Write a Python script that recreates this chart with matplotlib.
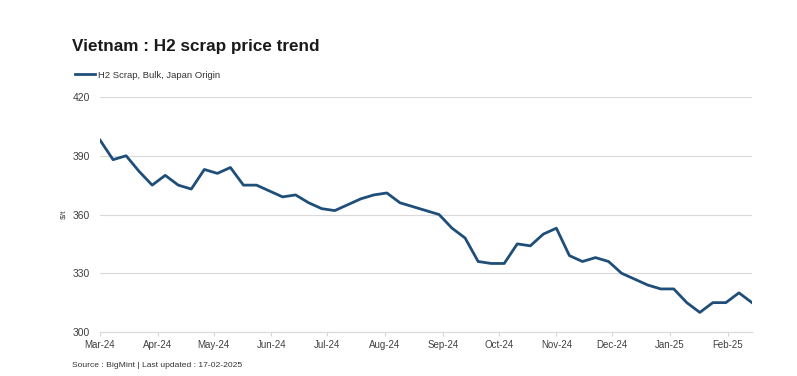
import pandas as pd
import matplotlib
matplotlib.use("Agg")
import matplotlib.pyplot as plt
import matplotlib.dates as mdates

# weekly H2 scrap prices, Vietnam ($/t)
start_date = "2024-03-01"
prices = [398, 388, 390, 382, 375, 380, 375, 373, 383, 381, 384, 375, 375,
          372, 369, 370, 366, 363, 362, 365, 368, 370, 371, 366, 364, 362,
          360, 353, 348, 336, 335, 335, 345, 344, 350, 353, 339, 336, 338,
          336, 330, 327, 324, 322, 322, 315, 310, 315, 315, 320, 315]
dates = pd.date_range(start_date, periods=len(prices), freq="7D")
yticks = [300, 330, 360, 390, 420]

plt.rcParams['font.family'] = ['Liberation Sans', 'DejaVu Sans']

fig = plt.figure(figsize=(7.97, 3.76), dpi=100)
ax = fig.add_axes([0.1255, 0.117, 0.818, 0.625])

ax.plot(dates, prices, color="#1f4e79", linewidth=2, label="H2 Scrap, Bulk, Japan Origin")

ax.set_xlim(dates[0], dates[-1])
ax.set_ylim(300, 420)
ax.set_yticks(yticks)
ax.grid(axis="y", color="#d9d9d9", linewidth=0.8)
ax.set_axisbelow(True)
for s in ["top", "right", "left"]:
    ax.spines[s].set_visible(False)
ax.spines["bottom"].set_color("#d9d9d9")

ax.xaxis.set_major_locator(mdates.MonthLocator())
ax.xaxis.set_major_formatter(mdates.DateFormatter("%b-%y"))
ax.tick_params(axis="x", colors="#d9d9d9", labelcolor="#404040", labelsize=7, length=3, pad=3)
ax.tick_params(axis="y", length=0, labelcolor="#404040", labelsize=7.5, pad=7)
ax.set_ylabel("$/t", fontsize=6, color="#404040", labelpad=4)

fig.text(0.09, 0.875, "Vietnam : H2 scrap price trend", fontsize=12.3, fontweight="bold", color="#1a1a1a", va="center")
fig.legend(loc="upper left", bbox_to_anchor=(0.083, 0.835), frameon=False, fontsize=6.8,
           handlelength=2.2, handletextpad=0.3, labelcolor="#333333")
fig.text(0.09, 0.027, "Source : BigMint | Last updated : 17-02-2025", fontsize=6.1, color="#333333", va="center")

fig.savefig("out.png", dpi=100, facecolor="white")
